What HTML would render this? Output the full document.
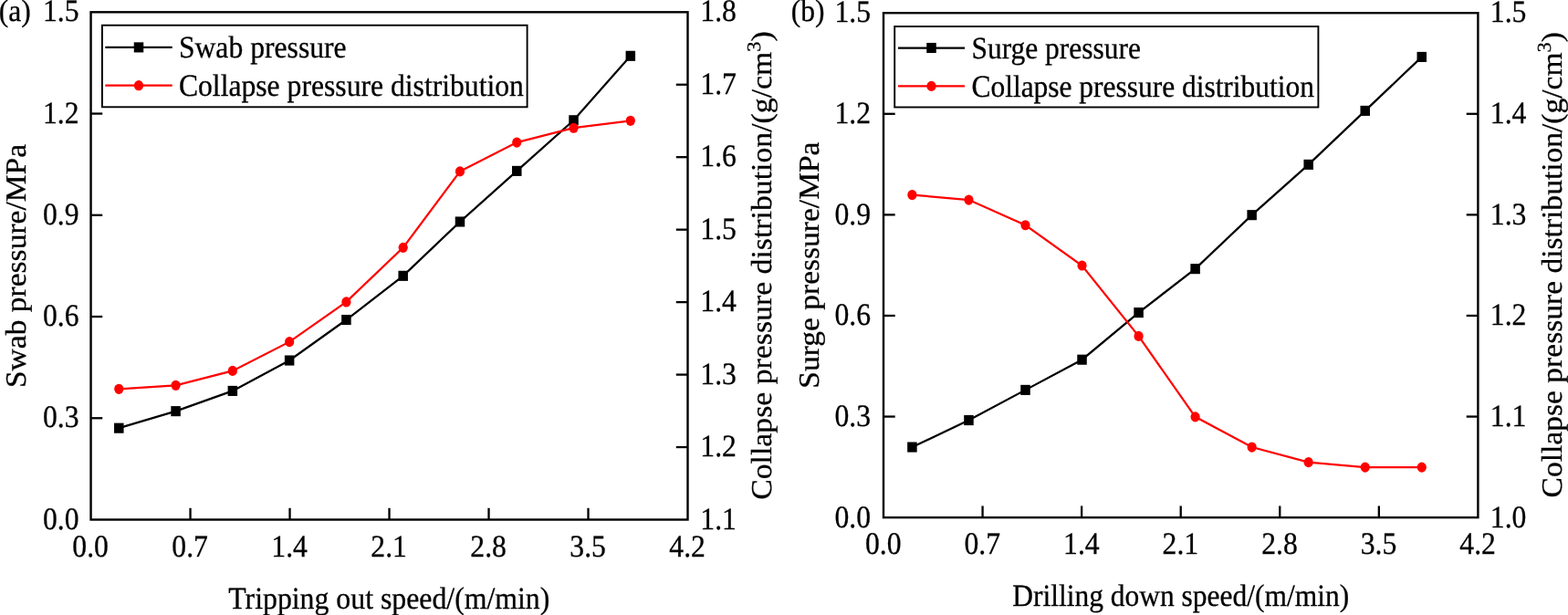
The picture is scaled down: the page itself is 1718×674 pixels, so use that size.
<!DOCTYPE html>
<html><head><meta charset="utf-8"><title>Figure</title>
<style>
html,body{margin:0;padding:0;background:#fff;}
svg{display:block;}
text{font-family:"Liberation Serif","Times New Roman",serif;fill:#000;stroke:#000;stroke-width:0.3px;text-rendering:geometricPrecision;}
</style></head>
<body>
<svg width="1718" height="674" viewBox="0 0 1718 674">
<rect x="0" y="0" width="1718" height="674" fill="#fff"/>
<g>
<polyline fill="none" stroke="#000" stroke-width="2.25" points="130.29,469.18 192.57,450.64 254.85,428.40 317.13,395.02 379.41,350.53 441.70,302.32 503.98,243.00 566.26,187.38 628.54,131.76 690.82,61.30"/>
<rect x="125.04" y="463.63" width="10.50" height="11.10" fill="#000"/>
<rect x="187.32" y="445.09" width="10.50" height="11.10" fill="#000"/>
<rect x="249.60" y="422.85" width="10.50" height="11.10" fill="#000"/>
<rect x="311.88" y="389.47" width="10.50" height="11.10" fill="#000"/>
<rect x="374.16" y="344.98" width="10.50" height="11.10" fill="#000"/>
<rect x="436.45" y="296.77" width="10.50" height="11.10" fill="#000"/>
<rect x="498.73" y="237.45" width="10.50" height="11.10" fill="#000"/>
<rect x="561.01" y="181.83" width="10.50" height="11.10" fill="#000"/>
<rect x="623.29" y="126.21" width="10.50" height="11.10" fill="#000"/>
<rect x="685.57" y="55.75" width="10.50" height="11.10" fill="#000"/>
<polyline fill="none" stroke="#f00" stroke-width="2.25" points="130.29,426.28 192.57,422.30 254.85,406.41 317.13,374.63 379.41,330.93 441.70,271.34 503.98,187.91 566.26,156.12 628.54,140.23 690.82,132.29"/>
<ellipse cx="130.29" cy="426.28" rx="5.10" ry="5.60" fill="#f00"/>
<ellipse cx="192.57" cy="422.30" rx="5.10" ry="5.60" fill="#f00"/>
<ellipse cx="254.85" cy="406.41" rx="5.10" ry="5.60" fill="#f00"/>
<ellipse cx="317.13" cy="374.63" rx="5.10" ry="5.60" fill="#f00"/>
<ellipse cx="379.41" cy="330.93" rx="5.10" ry="5.60" fill="#f00"/>
<ellipse cx="441.70" cy="271.34" rx="5.10" ry="5.60" fill="#f00"/>
<ellipse cx="503.98" cy="187.91" rx="5.10" ry="5.60" fill="#f00"/>
<ellipse cx="566.26" cy="156.12" rx="5.10" ry="5.60" fill="#f00"/>
<ellipse cx="628.54" cy="140.23" rx="5.10" ry="5.60" fill="#f00"/>
<ellipse cx="690.82" cy="132.29" rx="5.10" ry="5.60" fill="#f00"/>
<rect x="99.55" y="13.30" width="653.95" height="556.20" fill="none" stroke="#000" stroke-width="2.40"/>
<line x1="208.54" y1="569.50" x2="208.54" y2="556.80" stroke="#000" stroke-width="2.30"/>
<line x1="317.53" y1="569.50" x2="317.53" y2="556.80" stroke="#000" stroke-width="2.30"/>
<line x1="426.53" y1="569.50" x2="426.53" y2="556.80" stroke="#000" stroke-width="2.30"/>
<line x1="535.52" y1="569.50" x2="535.52" y2="556.80" stroke="#000" stroke-width="2.30"/>
<line x1="644.51" y1="569.50" x2="644.51" y2="556.80" stroke="#000" stroke-width="2.30"/>
<text transform="translate(99.15,610.00) scale(0.9260,1)" font-size="34.2" text-anchor="middle">0.0</text>
<text transform="translate(208.14,610.00) scale(0.9260,1)" font-size="34.2" text-anchor="middle">0.7</text>
<text transform="translate(317.13,610.00) scale(0.9260,1)" font-size="34.2" text-anchor="middle">1.4</text>
<text transform="translate(426.13,610.00) scale(0.9260,1)" font-size="34.2" text-anchor="middle">2.1</text>
<text transform="translate(535.12,610.00) scale(0.9260,1)" font-size="34.2" text-anchor="middle">2.8</text>
<text transform="translate(644.11,610.00) scale(0.9260,1)" font-size="34.2" text-anchor="middle">3.5</text>
<text transform="translate(753.10,610.00) scale(0.9260,1)" font-size="34.2" text-anchor="middle">4.2</text>
<text transform="translate(86.50,579.50) scale(0.9260,1)" font-size="34.2" text-anchor="end">0.0</text>
<line x1="99.55" y1="458.26" x2="112.25" y2="458.26" stroke="#000" stroke-width="2.30"/>
<text transform="translate(86.50,468.26) scale(0.9260,1)" font-size="34.2" text-anchor="end">0.3</text>
<line x1="99.55" y1="347.02" x2="112.25" y2="347.02" stroke="#000" stroke-width="2.30"/>
<text transform="translate(86.50,357.02) scale(0.9260,1)" font-size="34.2" text-anchor="end">0.6</text>
<line x1="99.55" y1="235.78" x2="112.25" y2="235.78" stroke="#000" stroke-width="2.30"/>
<text transform="translate(86.50,245.78) scale(0.9260,1)" font-size="34.2" text-anchor="end">0.9</text>
<line x1="99.55" y1="124.54" x2="112.25" y2="124.54" stroke="#000" stroke-width="2.30"/>
<text transform="translate(86.50,134.54) scale(0.9260,1)" font-size="34.2" text-anchor="end">1.2</text>
<text transform="translate(86.50,23.30) scale(0.9260,1)" font-size="34.2" text-anchor="end">1.5</text>
<text transform="translate(767.30,579.50) scale(0.9260,1)" font-size="34.2">1.1</text>
<line x1="753.50" y1="490.04" x2="740.80" y2="490.04" stroke="#000" stroke-width="2.30"/>
<text transform="translate(767.30,500.04) scale(0.9260,1)" font-size="34.2">1.2</text>
<line x1="753.50" y1="410.59" x2="740.80" y2="410.59" stroke="#000" stroke-width="2.30"/>
<text transform="translate(767.30,420.59) scale(0.9260,1)" font-size="34.2">1.3</text>
<line x1="753.50" y1="331.13" x2="740.80" y2="331.13" stroke="#000" stroke-width="2.30"/>
<text transform="translate(767.30,341.13) scale(0.9260,1)" font-size="34.2">1.4</text>
<line x1="753.50" y1="251.67" x2="740.80" y2="251.67" stroke="#000" stroke-width="2.30"/>
<text transform="translate(767.30,261.67) scale(0.9260,1)" font-size="34.2">1.5</text>
<line x1="753.50" y1="172.21" x2="740.80" y2="172.21" stroke="#000" stroke-width="2.30"/>
<text transform="translate(767.30,182.21) scale(0.9260,1)" font-size="34.2">1.6</text>
<line x1="753.50" y1="92.76" x2="740.80" y2="92.76" stroke="#000" stroke-width="2.30"/>
<text transform="translate(767.30,102.76) scale(0.9260,1)" font-size="34.2">1.7</text>
<text transform="translate(767.30,23.30) scale(0.9260,1)" font-size="34.2">1.8</text>
<rect x="111.90" y="27.70" width="465.70" height="89.60" fill="#fff" stroke="#000" stroke-width="1.9"/>
<line x1="115.30" y1="51.90" x2="188.70" y2="51.90" stroke="#000" stroke-width="2.25"/>
<rect x="146.75" y="46.35" width="10.50" height="11.10" fill="#000"/>
<line x1="115.30" y1="93.70" x2="188.70" y2="93.70" stroke="#f00" stroke-width="2.25"/>
<ellipse cx="152.00" cy="93.70" rx="5.10" ry="5.60" fill="#f00"/>
<text transform="translate(195.90,63.00) scale(0.9310,1)" font-size="34.0">Swab pressure</text>
<text transform="translate(195.90,104.80) scale(0.9310,1)" font-size="34.0">Collapse pressure distribution</text>
<text transform="translate(-1.20,23.30) scale(0.9290,1)" font-size="34.0">(a)</text>
<text transform="translate(426.30,666.60) scale(0.9350,1)" font-size="34.0" text-anchor="middle">Tripping out speed/(m/min)</text>
<text transform="translate(28.00,291.50) rotate(-90) scale(1,0.9521)" font-size="33.5" text-anchor="middle">Swab pressure/MPa</text>
<text transform="translate(845.30,291.00) rotate(-90) scale(1,0.9450)" font-size="33.75" text-anchor="middle">Collapse pressure distribution/(g/cm<tspan dy="-12.70" font-size="22.50">3</tspan><tspan dy="12.70">)</tspan></text>
</g>
<g>
<polyline fill="none" stroke="#000" stroke-width="2.25" points="999.42,490.04 1061.46,460.55 1123.50,427.37 1185.53,394.19 1247.57,342.58 1309.61,294.66 1371.65,235.68 1433.69,180.38 1495.72,121.40 1557.76,62.42"/>
<rect x="994.17" y="484.49" width="10.50" height="11.10" fill="#000"/>
<rect x="1056.21" y="455.00" width="10.50" height="11.10" fill="#000"/>
<rect x="1118.25" y="421.82" width="10.50" height="11.10" fill="#000"/>
<rect x="1180.28" y="388.64" width="10.50" height="11.10" fill="#000"/>
<rect x="1242.32" y="337.03" width="10.50" height="11.10" fill="#000"/>
<rect x="1304.36" y="289.11" width="10.50" height="11.10" fill="#000"/>
<rect x="1366.40" y="230.13" width="10.50" height="11.10" fill="#000"/>
<rect x="1428.44" y="174.83" width="10.50" height="11.10" fill="#000"/>
<rect x="1490.47" y="115.85" width="10.50" height="11.10" fill="#000"/>
<rect x="1552.51" y="56.87" width="10.50" height="11.10" fill="#000"/>
<polyline fill="none" stroke="#f00" stroke-width="2.25" points="999.42,213.56 1061.46,219.09 1123.50,246.74 1185.53,290.98 1247.57,368.39 1309.61,456.86 1371.65,490.04 1433.69,506.63 1495.72,512.15 1557.76,512.15"/>
<ellipse cx="999.42" cy="213.56" rx="5.10" ry="5.60" fill="#f00"/>
<ellipse cx="1061.46" cy="219.09" rx="5.10" ry="5.60" fill="#f00"/>
<ellipse cx="1123.50" cy="246.74" rx="5.10" ry="5.60" fill="#f00"/>
<ellipse cx="1185.53" cy="290.98" rx="5.10" ry="5.60" fill="#f00"/>
<ellipse cx="1247.57" cy="368.39" rx="5.10" ry="5.60" fill="#f00"/>
<ellipse cx="1309.61" cy="456.86" rx="5.10" ry="5.60" fill="#f00"/>
<ellipse cx="1371.65" cy="490.04" rx="5.10" ry="5.60" fill="#f00"/>
<ellipse cx="1433.69" cy="506.63" rx="5.10" ry="5.60" fill="#f00"/>
<ellipse cx="1495.72" cy="512.15" rx="5.10" ry="5.60" fill="#f00"/>
<ellipse cx="1557.76" cy="512.15" rx="5.10" ry="5.60" fill="#f00"/>
<rect x="968.00" y="14.20" width="651.40" height="552.95" fill="none" stroke="#000" stroke-width="2.40"/>
<line x1="1076.57" y1="567.15" x2="1076.57" y2="554.45" stroke="#000" stroke-width="2.30"/>
<line x1="1185.13" y1="567.15" x2="1185.13" y2="554.45" stroke="#000" stroke-width="2.30"/>
<line x1="1293.70" y1="567.15" x2="1293.70" y2="554.45" stroke="#000" stroke-width="2.30"/>
<line x1="1402.27" y1="567.15" x2="1402.27" y2="554.45" stroke="#000" stroke-width="2.30"/>
<line x1="1510.83" y1="567.15" x2="1510.83" y2="554.45" stroke="#000" stroke-width="2.30"/>
<text transform="translate(967.70,606.90) scale(0.9260,1)" font-size="34.2" text-anchor="middle">0.0</text>
<text transform="translate(1076.27,606.90) scale(0.9260,1)" font-size="34.2" text-anchor="middle">0.7</text>
<text transform="translate(1184.83,606.90) scale(0.9260,1)" font-size="34.2" text-anchor="middle">1.4</text>
<text transform="translate(1293.40,606.90) scale(0.9260,1)" font-size="34.2" text-anchor="middle">2.1</text>
<text transform="translate(1401.97,606.90) scale(0.9260,1)" font-size="34.2" text-anchor="middle">2.8</text>
<text transform="translate(1510.53,606.90) scale(0.9260,1)" font-size="34.2" text-anchor="middle">3.5</text>
<text transform="translate(1619.10,606.90) scale(0.9260,1)" font-size="34.2" text-anchor="middle">4.2</text>
<text transform="translate(954.00,577.85) scale(0.9260,1)" font-size="34.2" text-anchor="end">0.0</text>
<line x1="968.00" y1="456.56" x2="980.70" y2="456.56" stroke="#000" stroke-width="2.30"/>
<text transform="translate(954.00,467.12) scale(0.9260,1)" font-size="34.2" text-anchor="end">0.3</text>
<line x1="968.00" y1="345.97" x2="980.70" y2="345.97" stroke="#000" stroke-width="2.30"/>
<text transform="translate(954.00,356.39) scale(0.9260,1)" font-size="34.2" text-anchor="end">0.6</text>
<line x1="968.00" y1="235.38" x2="980.70" y2="235.38" stroke="#000" stroke-width="2.30"/>
<text transform="translate(954.00,245.66) scale(0.9260,1)" font-size="34.2" text-anchor="end">0.9</text>
<line x1="968.00" y1="124.79" x2="980.70" y2="124.79" stroke="#000" stroke-width="2.30"/>
<text transform="translate(954.00,134.93) scale(0.9260,1)" font-size="34.2" text-anchor="end">1.2</text>
<text transform="translate(954.00,24.20) scale(0.9260,1)" font-size="34.2" text-anchor="end">1.5</text>
<text transform="translate(1632.80,577.85) scale(0.9260,1)" font-size="34.2">1.0</text>
<line x1="1619.40" y1="456.56" x2="1606.70" y2="456.56" stroke="#000" stroke-width="2.30"/>
<text transform="translate(1632.80,467.12) scale(0.9260,1)" font-size="34.2">1.1</text>
<line x1="1619.40" y1="345.97" x2="1606.70" y2="345.97" stroke="#000" stroke-width="2.30"/>
<text transform="translate(1632.80,356.39) scale(0.9260,1)" font-size="34.2">1.2</text>
<line x1="1619.40" y1="235.38" x2="1606.70" y2="235.38" stroke="#000" stroke-width="2.30"/>
<text transform="translate(1632.80,245.66) scale(0.9260,1)" font-size="34.2">1.3</text>
<line x1="1619.40" y1="124.79" x2="1606.70" y2="124.79" stroke="#000" stroke-width="2.30"/>
<text transform="translate(1632.80,134.93) scale(0.9260,1)" font-size="34.2">1.4</text>
<text transform="translate(1632.80,24.20) scale(0.9260,1)" font-size="34.2">1.5</text>
<rect x="980.20" y="29.00" width="464.20" height="88.50" fill="#fff" stroke="#000" stroke-width="1.9"/>
<line x1="984.00" y1="52.50" x2="1057.00" y2="52.50" stroke="#000" stroke-width="2.25"/>
<rect x="1015.25" y="46.95" width="10.50" height="11.10" fill="#000"/>
<line x1="984.00" y1="94.40" x2="1057.00" y2="94.40" stroke="#f00" stroke-width="2.25"/>
<ellipse cx="1020.50" cy="94.40" rx="5.10" ry="5.60" fill="#f00"/>
<text transform="translate(1064.50,64.00) scale(0.9245,1)" font-size="34.0">Surge pressure</text>
<text transform="translate(1064.50,105.90) scale(0.9245,1)" font-size="34.0">Collapse pressure distribution</text>
<text transform="translate(866.70,23.30) scale(0.9290,1)" font-size="34.0">(b)</text>
<text transform="translate(1293.70,663.80) scale(0.9260,1)" font-size="34.0" text-anchor="middle">Drilling down speed/(m/min)</text>
<text transform="translate(896.70,290.60) rotate(-90) scale(1,0.9521)" font-size="33.5" text-anchor="middle">Surge pressure/MPa</text>
<text transform="translate(1711.20,290.20) rotate(-90) scale(1,0.9509)" font-size="33.54" text-anchor="middle">Collapse pressure distribution/(g/cm<tspan dy="-12.70" font-size="22.50">3</tspan><tspan dy="12.70">)</tspan></text>
</g>
</svg>
</body></html>
